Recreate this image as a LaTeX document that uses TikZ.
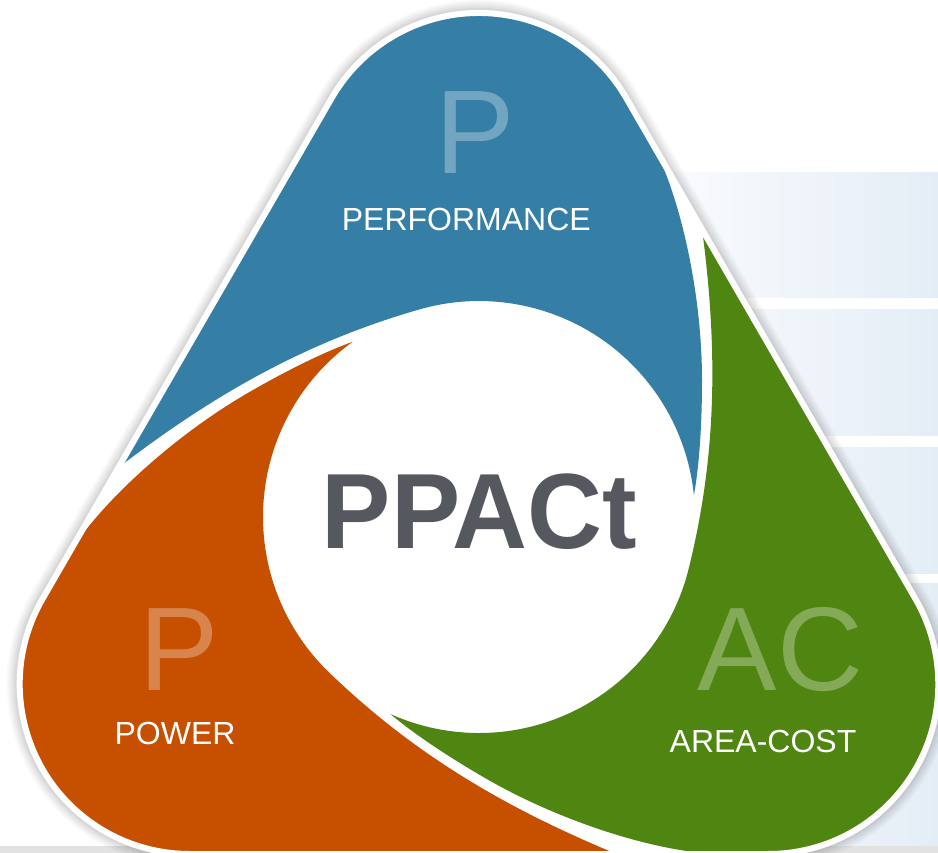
\documentclass[tikz,border=0pt]{standalone}
\usepackage{fontspec}
\setmainfont{Liberation Sans}
\definecolor{pblue}{HTML}{357EA5}
\definecolor{porange}{HTML}{C75000}
\definecolor{pgreen}{HTML}{4F8511}
\definecolor{pblueL}{HTML}{72A5C0}
\definecolor{porangeL}{HTML}{D8854D}
\definecolor{pgreenL}{HTML}{84AA58}
\definecolor{ptext}{HTML}{55585E}
\definecolor{bandc}{HTML}{E4EDF6}
\definecolor{stripc}{HTML}{E2E2E2}
\tikzset{
  silh/.style={insert path={(147.2,419) arc[start angle=30,end angle=150,radius=170]
     -- (-436.5,-82) arc[start angle=150,end angle=270,radius=170]
     -- (289.3,-337) arc[start angle=270,end angle=390,radius=170] -- cycle}},
  petal/.style={insert path={(169.7,380) -- (147.2,419)
     arc[start angle=30,end angle=150,radius=170]
     -- (-360.6,49.4) .. controls (-257.5,128.7) and (-165.2,177.2) .. (-59.5,207.6)
     arc[start angle=106,end angle=5.8,radius=216]
     .. controls (220,50) and (223,90) .. (223,137)
     .. controls (223,227) and (199.7,328) .. (169.7,380) -- cycle}},
  bigL/.style={anchor=base, inner sep=0pt, font=\fontsize{119}{119}\selectfont},
  lab/.style={anchor=base, inner sep=0pt, text=white, font=\fontsize{32}{32}\selectfont},
  core/.style={anchor=base, inner sep=0pt, text=ptext, font=\fontsize{107}{107}\selectfont\bfseries}
}
\begin{document}
\begin{tikzpicture}[x=1pt,y=1pt]
\useasboundingbox (0,0) rectangle (938,-853);
\fill[white] (0,0) rectangle (938,-853);
% background bands
\foreach \a/\b in {173/298, 310/435, 447/573, 583/846} {
  \shade[left color=white, right color=bandc] (600,-\a) rectangle (938,-\b);
}
\fill[stripc] (0,-846) rectangle (938,-853);
\begin{scope}[shift={(479,-517)}]
  % soft shadow
  \foreach \w/\o in {26/0.025, 22/0.03, 18/0.03, 14/0.035, 10/0.04} {
    \draw[draw=black, opacity=\o, line width=\w pt, line join=round, silh];
  }
  \fill[white, silh];
  % petals
  \fill[pblue, petal];
  \begin{scope}[rotate=120]
    \fill[porange, petal];
  \end{scope}
  \begin{scope}[rotate=-120]
    \fill[pgreen, petal];
  \end{scope}
  \draw[white, line width=6pt, line join=round, silh];
\end{scope}
% texts
\node[bigL, text=pblueL] (bigp1) at (475.3,-173.3) {P};
\node[lab] (perf) at (466.3,-230.7) {PERFORMANCE};
\node[bigL, text=porangeL] (bigp2) at (179.4,-690) {P};
\node[lab] (power) at (175,-744) {POWER};
\node[bigL, text=pgreenL] (bigac) at (780.5,-690) {AC};
\node[lab] (areacost) at (763,-752.7) {AREA-COST};
\node[core, xscale=0.97] (ppact) at (479.5,-548) {PPACt};
\end{tikzpicture}
\end{document}
